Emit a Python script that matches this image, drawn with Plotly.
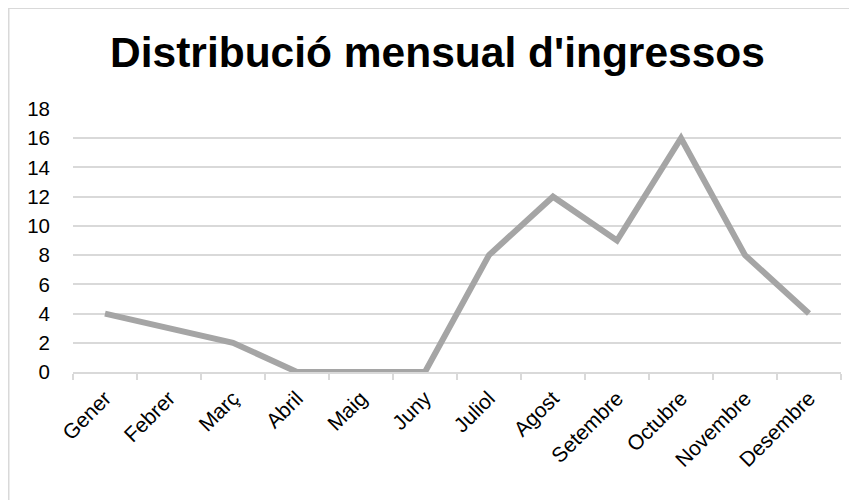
import plotly.graph_objects as go

months = ["Gener", "Febrer", "Març", "Abril", "Maig", "Juny", "Juliol",
          "Agost", "Setembre", "Octubre", "Novembre", "Desembre"]
values = [4, 3, 2, 0, 0, 0, 8, 12, 9, 16, 8, 4]
y_ticks = [0, 2, 4, 6, 8, 10, 12, 14, 16, 18]

# the page places the figure 8px in from the window's top-left corner
OFF = 8
W, H = 857, 500
ml = 73 - OFF
mr = W - (841 - OFF)
mt = 109 - OFF
mb = H - (372 - OFF)

fig = go.Figure()
fig.add_trace(go.Scatter(
    x=months, y=values, mode="lines",
    line=dict(color="#a5a5a5", width=6),
    hoverinfo="skip", showlegend=False,
))

pw = W - ml - mr
ph = H - mt - mb
fig.add_shape(
    type="rect", xref="paper", yref="paper",
    x0=(0.75 - ml) / pw, x1=(W + 20 - ml) / pw,
    y0=-(H + 20 - (H - mb)) / ph, y1=1 + (mt - 0.25) / ph,
    line=dict(color="#d9d9d9", width=1.5), fillcolor="rgba(0,0,0,0)",
    layer="below",
)

fig.update_layout(
    width=W, height=H,
    margin=dict(l=ml, r=mr, t=mt, b=mb),
    paper_bgcolor="white", plot_bgcolor="white",
    font=dict(family="Liberation Sans, Arial, sans-serif", color="#000000", size=20),
    title=dict(
        text="<b>Distribució mensual d'ingressos</b>",
        x=(437.5 - OFF) / W, xanchor="center", xref="container",
        y=1 - 44 / H, yanchor="middle", yref="container",
        font=dict(size=42.5, color="#000000"),
    ),
    xaxis=dict(
        type="category",
        tickangle=-45,
        showgrid=False,
        showline=True, linecolor="#d9d9d9", linewidth=1.5,
        ticks="outside", tickson="boundaries", ticklen=6,
        tickcolor="#d9d9d9", tickwidth=1.5,
        range=[-0.5, 11.5],
        ticklabelstandoff=4,
        tickfont=dict(size=21),
    ),
    yaxis=dict(
        range=[0, 18],
        tickvals=y_ticks,
        showgrid=True, gridcolor="#d9d9d9", gridwidth=1.5,
        zeroline=False, showline=False, ticks="",
        ticklabelstandoff=22,
        tickfont=dict(size=20.5),
    ),
)

fig.write_html("out.html")
